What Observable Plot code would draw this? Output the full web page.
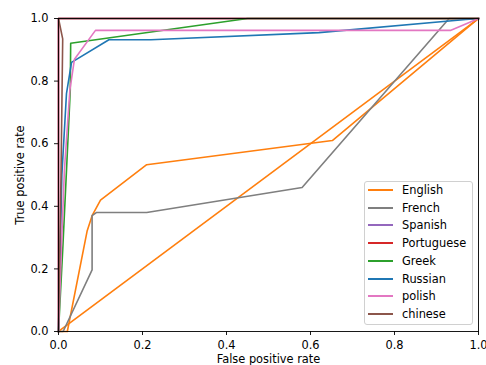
<!DOCTYPE html>
<html>
<head>
<meta charset="utf-8">
<script src="https://cdn.jsdelivr.net/npm/d3@7"></script>
<script src="https://cdn.jsdelivr.net/npm/@observablehq/plot@0.6"></script>
<style>
  html, body { margin: 0; padding: 0; background: #fff; }
  #wrap { position: relative; width: 486px; height: 365px; overflow: hidden; font-family: "DejaVu Sans", sans-serif; }
  #legend { position: absolute; left: 364px; top: 181px; width: 109px; height: 144px; box-sizing: border-box;
    border: 1px solid #d0d0d0; border-radius: 3px; background: rgba(255,255,255,0.85); font-size: 11.4px; color: #000; }
  .row { position: absolute; left: 0; height: 18px; width: 100%; }
  .sw { position: absolute; left: 3px; top: 7px; width: 25px; height: 2px; }
  .lb { position: absolute; left: 37px; top: 0px; line-height: 16px; white-space: nowrap; }
</style>
</head>
<body>
<div id="wrap"><div id="legend"></div></div>
<script>
// Series names and colours (legend order)
const languages = ["English", "French", "Spanish", "Portuguese", "Greek", "Russian", "polish", "chinese"];
const colors = ["#ff7f0e", "#7f7f7f", "#9467bd", "#d62728", "#2ca02c", "#1f77b4", "#e377c2", "#8c564b"];

// ROC curve points
const chanceFpr = [0, 1];
const chanceTpr = [0, 1];
const englishFpr = [0, 0.021, 0.068, 0.08, 0.1, 0.21, 0.652, 1];
const englishTpr = [0, 0, 0.32, 0.37, 0.42, 0.533, 0.61, 1];
const frenchFpr = [0, 0.011, 0.08, 0.08, 0.09, 0.21, 0.58, 0.93, 1];
const frenchTpr = [0, 0, 0.197, 0.37, 0.38, 0.38, 0.46, 1, 1];
const spanishFpr = [0, 0, 1];
const spanishTpr = [0, 1, 1];
const portugueseFpr = [0, 0, 1];
const portugueseTpr = [0, 1, 1];
const greekFpr = [0, 0.01, 0.019, 0.028, 0.029, 0.45, 1];
const greekTpr = [0, 0.26, 0.514, 0.77, 0.921, 1, 1];
const russianFpr = [0, 0.008, 0.019, 0.031, 0.12, 0.22, 0.62, 0.97, 1];
const russianTpr = [0, 0.5, 0.76, 0.86, 0.932, 0.932, 0.955, 0.997, 1];
const polishFpr = [0, 0.007, 0.014, 0.027, 0.038, 0.088, 0.933, 1];
const polishTpr = [0, 0.27, 0.514, 0.77, 0.87, 0.962, 0.962, 1];
const chineseFpr = [0, 0.006, 0.01, 0, 1];
const chineseTpr = [0, 0.5, 0.935, 1, 1];

const ticks = [0, 0.2, 0.4, 0.6, 0.8, 1.0];

const seriesFpr = [englishFpr, frenchFpr, spanishFpr, portugueseFpr, greekFpr, russianFpr, polishFpr, chineseFpr];
const seriesTpr = [englishTpr, frenchTpr, spanishTpr, portugueseTpr, greekTpr, russianTpr, polishTpr, chineseTpr];

const rows = [];
chanceFpr.forEach((f, i) => rows.push({series: "chance", fpr: f, tpr: chanceTpr[i]}));
languages.forEach((lang, k) => {
  seriesFpr[k].forEach((f, i) => rows.push({series: lang, fpr: f, tpr: seriesTpr[k][i]}));
});

const colorDomain = ["chance", ...languages];
const colorRange = [colors[0], ...colors];

const FS = 11.4;
const chart = Plot.plot({
  width: 486,
  height: 365,
  marginLeft: 58,
  marginRight: 8,
  marginTop: 18,
  marginBottom: 34,
  style: {fontFamily: "DejaVu Sans, sans-serif", fontSize: FS + "px", background: "transparent", color: "#000", overflow: "visible"},
  x: {domain: [0, 1]},
  y: {domain: [0, 1]},
  color: {domain: colorDomain, range: colorRange},
  marks: [
    Plot.line(rows, {x: "fpr", y: "tpr", z: "series", stroke: "series", strokeWidth: 1.6, strokeLinejoin: "round", strokeLinecap: "square"}),
    Plot.frame({stroke: "#000", strokeWidth: 0.9}),
    Plot.axisX({ticks, tickFormat: d3.format(".1f"), tickSize: 4, tickPadding: 5, label: null, fontSize: FS, strokeWidth: 0.9}),
    Plot.axisY({ticks, tickFormat: d3.format(".1f"), tickSize: 4, tickPadding: 6, label: null, fontSize: FS, strokeWidth: 0.9}),
    Plot.text(["True positive rate"], {frameAnchor: "left", dx: -38, rotate: -90, fontSize: FS, textAnchor: "middle", lineAnchor: "middle"}),
    Plot.text(["False positive rate"], {frameAnchor: "bottom", dy: 23.5, fontSize: FS, textAnchor: "middle", lineAnchor: "top"})
  ]
});
document.getElementById("wrap").insertBefore(chart, document.getElementById("legend"));

const legend = document.getElementById("legend");
languages.forEach((lang, i) => {
  const r = document.createElement("div");
  r.className = "row";
  r.style.top = Math.round(i * 17.7) + "px";
  const s = document.createElement("div");
  s.className = "sw";
  s.style.background = colors[i];
  const t = document.createElement("div");
  t.className = "lb";
  t.textContent = lang;
  r.appendChild(s); r.appendChild(t);
  legend.appendChild(r);
});
</script>
</body>
</html>
